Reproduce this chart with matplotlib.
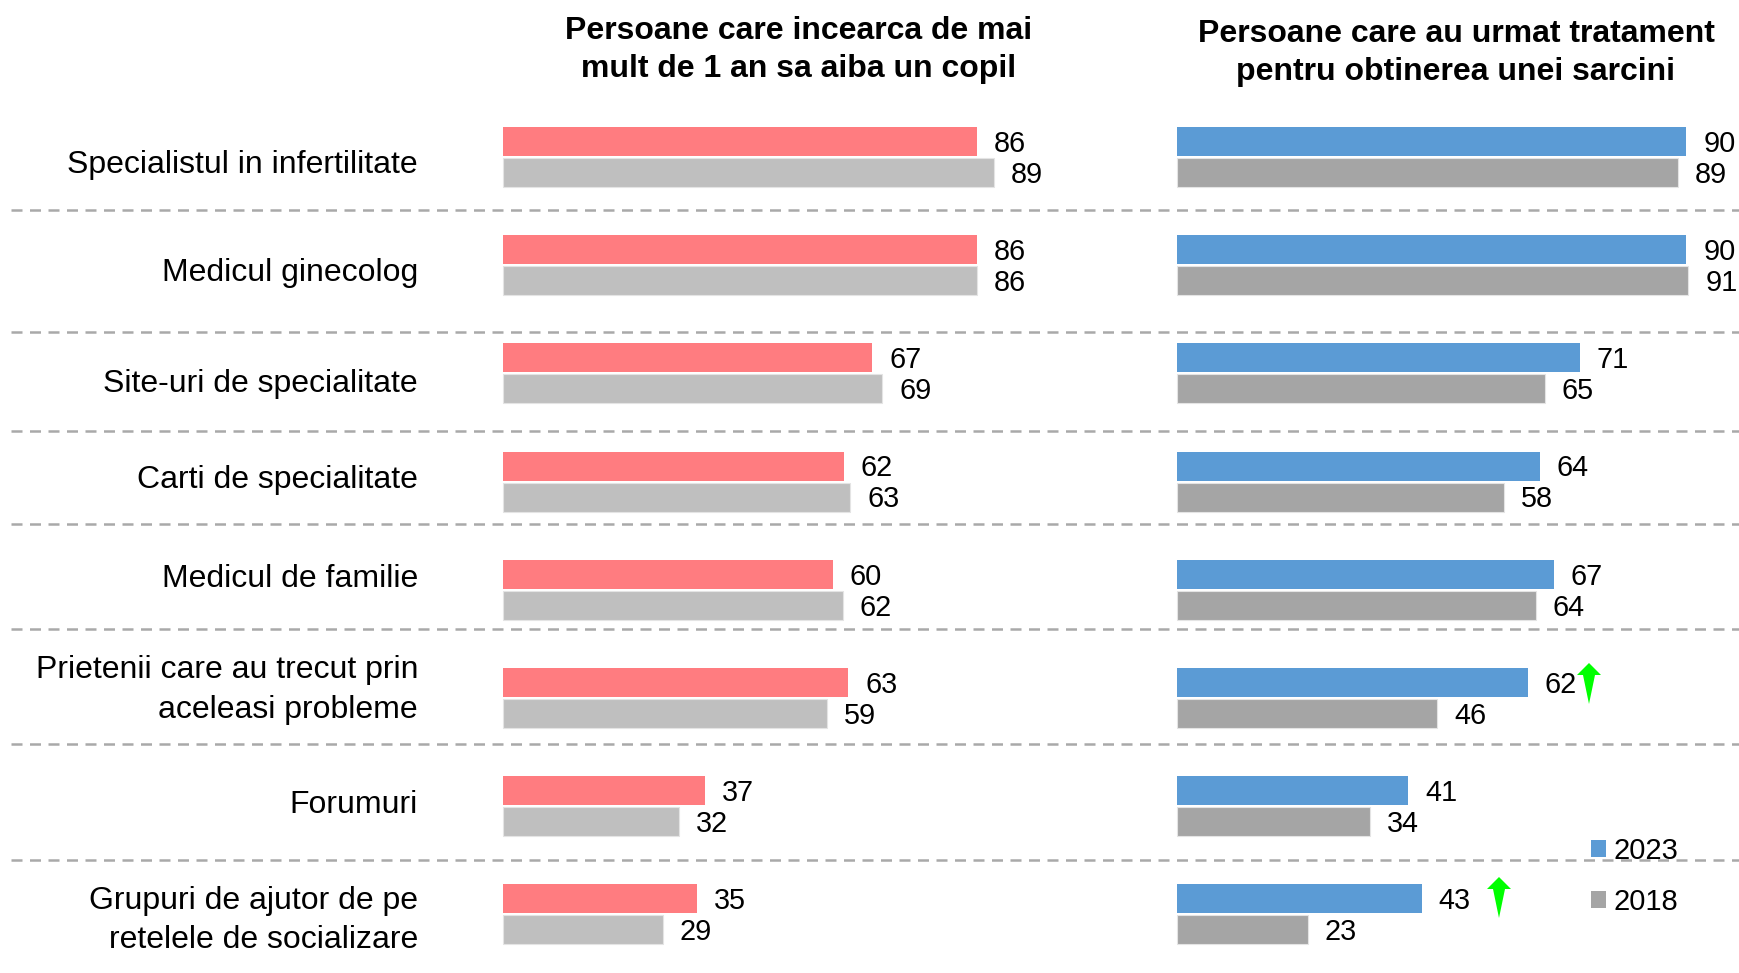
import matplotlib
matplotlib.use("Agg")
import matplotlib.pyplot as plt
from matplotlib.lines import Line2D
from matplotlib.patches import Patch, Polygon

plt.rcParams['font.family'] = ['Liberation Sans', 'DejaVu Sans']

# ---- data ----
categories = ["Specialistul in infertilitate", "Medicul ginecolog", "Site-uri de specialitate",
              "Carti de specialitate", "Medicul de familie",
              "Prietenii care au trecut prin\naceleasi probleme", "Forumuri",
              "Grupuri de ajutor de pe\nretelele de socializare"]
left_2023 = [86, 86, 67, 61.8, 59.8, 62.6, 36.6, 35.2]
left_2018 = [89, 86, 68.8, 63, 61.6, 58.7, 31.9, 29]
right_2023 = [90.2, 90.2, 71.4, 64.3, 66.8, 62.2, 41, 43.4]
right_2018 = [88.7, 90.6, 65.2, 57.9, 63.6, 46.1, 34.2, 23.2]
title_left = "Persoane care incearca de mai\nmult de 1 an sa aiba un copil"
title_right = "Persoane care au urmat tratament\npentru obtinerea unei sarcini"
legend_labels = ["2023", "2018"]

# ---- layout (pixels of the 1739x973 canvas) ----
W, H = 1739, 973
row0, row_step = 157.0, 108.2
label_shift = [8.5, 8, 11, -2, -11, -8, -1, 6]
separators = [210, 332, 430.5, 523.5, 629, 744, 859.5]
arrows = [(1589, 663), (1499, 877)]

fig = plt.figure(figsize=(W / 100, H / 100), dpi=100, facecolor="white")


def make_axes(x0, px_per_unit, xmax):
    ax = fig.add_axes([x0 / W, 0, xmax * px_per_unit / W, 1])
    ax.set_xlim(0, xmax)
    ax.set_ylim((H - row0) / row_step, -row0 / row_step)
    ax.axis("off")
    return ax


ax_l = make_axes(502.5, 5.52, 100)
ax_r = make_axes(1176.5, 5.65, 98)

bar_h = 29 / row_step
off = 15.5 / row_step
pad_pts = 17 * 0.72
VAL_FS = 20.8
TXT_FS = 23


def panel(ax, top, bottom, ctop, cbottom):
    for i, (a, b) in enumerate(zip(top, bottom)):
        ax.barh(i - off, a, height=bar_h, color=ctop, edgecolor="none", clip_on=False)
        ax.barh(i + off, b, height=bar_h, color=cbottom, edgecolor="#E4E4E4", linewidth=0.8, clip_on=False)
        for val, y in ((a, i - off), (b, i + off)):
            ax.annotate(f"{val:.0f}", (val, y), xytext=(pad_pts, -1.7), textcoords="offset points",
                        va="center", ha="left", fontsize=VAL_FS, color="black",
                        annotation_clip=False)


panel(ax_l, left_2023, left_2018, "#FF7C80", "#BFBFBF")
panel(ax_r, right_2023, right_2018, "#5B9BD5", "#A5A5A5")

# category labels
for i, lab in enumerate(categories):
    y = (row0 + i * row_step + label_shift[i]) / H
    fig.text(418 / W, 1 - y, lab, ha="right", va="center", fontsize=TXT_FS,
             linespacing=1.41, color="black")

# titles
fig.text(798.5 / W, 1 - 50 / H, title_left, ha="center", va="center", fontsize=TXT_FS,
         fontweight="bold", linespacing=1.37)
fig.text(1456 / W, 1 - 53 / H, title_right, ha="center", va="center", fontsize=TXT_FS,
         fontweight="bold", linespacing=1.37)

# dashed separators
for s in separators:
    fig.add_artist(Line2D([11 / W, 1], [1 - s / H, 1 - s / H], color="#A9A9A9", lw=1.8,
                          dashes=(4.4, 3.0)))

# green arrows
for cx, ty in arrows:
    shape = [(0, 0), (12, 12), (6, 12), (0, 41), (-6, 12), (-12, 12)]
    pts = [((cx + dx) / W, 1 - (ty + dy) / H) for dx, dy in shape]
    fig.add_artist(Polygon(pts, closed=True, transform=fig.transFigure,
                           facecolor="#00FF00", edgecolor="none"))

# legend
handles = [Patch(facecolor="#5B9BD5"), Patch(facecolor="#A5A5A5")]
fig.legend(handles, legend_labels, loc="center left", bbox_to_anchor=(1591 / W, 1 - 876.5 / H),
           frameon=False, fontsize=21, handlelength=0.5, handleheight=0.5,
           handletextpad=0.27, labelspacing=0.78, borderpad=0, borderaxespad=0)

fig.savefig("out.png", dpi=100)
